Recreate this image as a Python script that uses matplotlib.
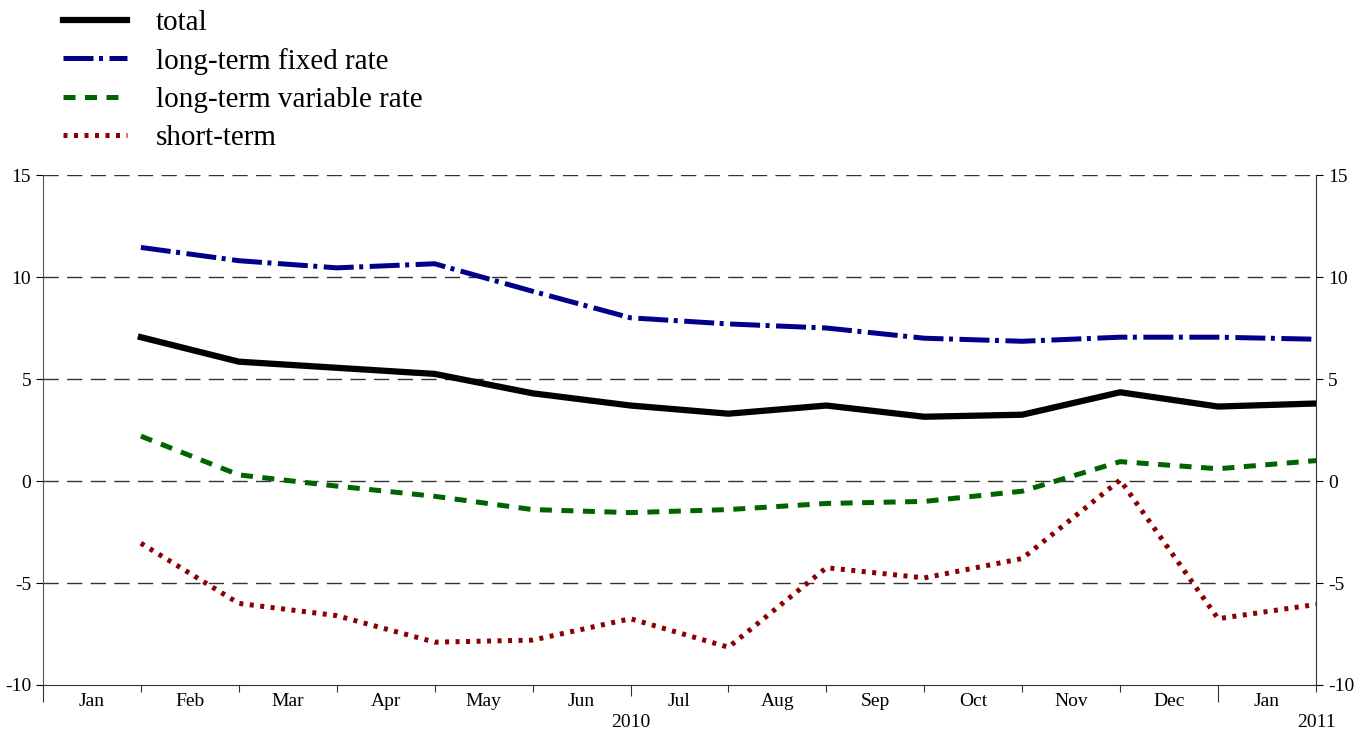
import numpy as np
import matplotlib.pyplot as plt

months = ["Jan", "Feb", "Mar", "Apr", "May", "Jun", "Jul",
          "Aug", "Sep", "Oct", "Nov", "Dec", "Jan"]
total = [7.05, 5.85, 5.55, 5.25, 4.3, 3.7, 3.3, 3.7, 3.15, 3.25, 4.35, 3.65, 3.8]
fixed_rate = [11.45, 10.8, 10.45, 10.65, 9.3, 8.0, 7.7, 7.5, 7.0, 6.85, 7.05, 7.05, 6.95]
variable_rate = [2.2, 0.3, -0.25, -0.75, -1.4, -1.55, -1.4, -1.1, -1.0, -0.5, 0.95, 0.6, 1.0]
short_term = [-3.05, -6.0, -6.6, -7.9, -7.8, -6.75, -8.15, -4.25, -4.75, -3.8, 0.05, -6.75, -6.05]
labels = ["total", "long-term fixed rate", "long-term variable rate", "short-term"]

plt.rcParams['font.family'] = ['Liberation Serif', 'DejaVu Serif']
plt.rcParams['axes.unicode_minus'] = False

fig = plt.figure(figsize=(13.72, 7.36), dpi=100)
ax = fig.add_axes([0.0313, 0.0693, 0.9279, 0.6929])

x = np.arange(1, len(total) + 1)
l1, = ax.plot(x, total, color='black', lw=4.5, solid_joinstyle='round')
l2, = ax.plot(x, fixed_rate, color='#00008B', lw=3.6, dashes=(6, 1.1, 0.8, 1.3))
l3, = ax.plot(x, variable_rate, color='#006400', lw=3.6, dashes=(2.4, 1.9))
l4, = ax.plot(x, short_term, color='#8B0000', lw=3.6, dashes=(0.8, 1.3))

ax.set_xlim(0, 13)
ax.set_ylim(-10, 15)

for v in [-5, 0, 5, 10, 15]:
    ax.axhline(v, color='#333333', lw=1, dashes=(11, 6), zorder=0)

ax.spines['top'].set_visible(False)
ax.spines['bottom'].set_color('#333333')
ax.spines['left'].set_color('#555555')
ax.spines['right'].set_color('#333333')

ax.set_yticks([-10, -5, 0, 5, 10, 15])
ax.tick_params(axis='y', which='both', direction='out', length=5,
               labelsize=14, left=True, right=True, labelleft=True, labelright=True)

ax.set_xticks(np.arange(0, 14))
ax.set_xticklabels([])
ax.set_xticks(np.arange(0.5, 13), minor=True)
ax.set_xticklabels(months, minor=True)
ax.tick_params(axis='x', which='major', direction='out', length=5, color='#333333')
ax.tick_params(axis='x', which='minor', length=0, labelsize=14, pad=6)
for i, t in enumerate(ax.xaxis.get_major_ticks()):
    if i in (0, 12):
        t.tick1line.set_markersize(12)
    elif i == 6:
        t.tick1line.set_markersize(8)

ax.text(6, -0.056, "2010", transform=ax.get_xaxis_transform(),
        ha='center', va='top', fontsize=14, clip_on=False)
ax.text(13, -0.056, "2011", transform=ax.get_xaxis_transform(),
        ha='center', va='top', fontsize=14, clip_on=False)

fig.legend([l1, l2, l3, l4], labels, loc='upper left',
           bbox_to_anchor=(0.027, 1.023), frameon=False, fontsize=21,
           handlelength=2.2, handletextpad=0.97, labelspacing=0.41)

fig.savefig("out.png", dpi=100)
